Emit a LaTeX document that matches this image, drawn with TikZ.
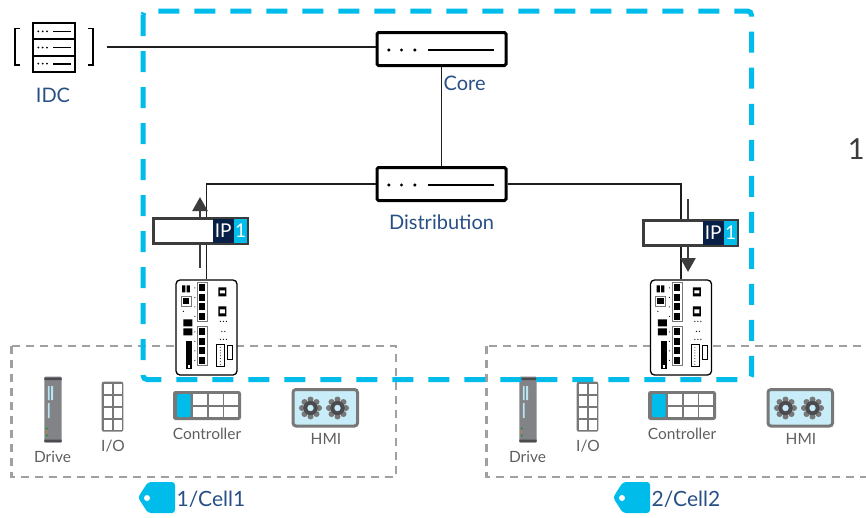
\documentclass[tikz,border=0pt]{standalone}
\usepackage{fontspec}
\setmainfont{Lato}
\usetikzlibrary{arrows.meta,calc}

\definecolor{zoneblue}{RGB}{0,188,235}
\definecolor{labelblue}{RGB}{40,80,135}
\definecolor{labelgrey}{RGB}{95,95,95}
\definecolor{cellgrey}{RGB}{160,160,160}
\definecolor{iconpanel}{RGB}{130,131,135}
\definecolor{icondark}{RGB}{75,75,80}
\definecolor{slotblue}{RGB}{185,228,242}
\definecolor{hmifill}{RGB}{200,236,248}
\definecolor{ipnavy}{RGB}{8,32,70}
\definecolor{linkgrey}{RGB}{30,30,30}
\definecolor{flowgrey}{RGB}{60,60,60}
\definecolor{devgrey}{RGB}{120,120,120}

\tikzset{
  link/.style={draw=linkgrey, line width=1.5pt},
  netswitch/.style={draw=black, line width=3pt, fill=white, rounded corners=1.5pt,
    minimum width=129pt, minimum height=33pt, inner sep=0pt},
  zonebox/.style={draw=zoneblue, line width=5pt, dash pattern=on 21pt off 15pt, rounded corners=4pt},
  cellbox/.style={draw=cellgrey, line width=2.5pt, dash pattern=on 8pt off 6pt},
  bluelbl/.style={text=labelblue, inner sep=0pt, font=\fontsize{20}{24}\selectfont},
  greylbl/.style={text=labelgrey, inner sep=0pt, font=\fontsize{15.5}{18}\selectfont},
  ipframe/.style={draw=flowgrey, line width=2.5pt, fill=white, minimum width=94pt,
    minimum height=25pt, inner sep=0pt},
  ipflow/.style={draw=flowgrey, line width=2.5pt, -{Triangle[length=14pt,width=15pt]}},
  iedev/.style={draw=black, line width=1.3pt, fill=white, rounded corners=4pt,
    minimum width=61pt, minimum height=95pt, inner sep=0pt},
  thinpart/.style={line width=0.6pt},
}

% dots and bar of a switch glyph
\newcommand\switchglyph[1]{%
  \foreach \dx in {13.4,26,39.4}{\fill ([xshift=\dx pt, yshift=-1pt]#1.west) circle (1.7);}
  \draw[line width=2.6pt] ([xshift=52pt, yshift=-1pt]#1.west) -- ([xshift=-13.4pt, yshift=-1pt]#1.east);}

% IP label box with the two coloured fields
\newcommand\ipbox[3]{%
  \node[ipframe] (#1) at (#2,#3) {};
  \fill[ipnavy] ([xshift=-36pt, yshift=-1.3pt]#1.north east) rectangle ([xshift=-15pt, yshift=1.3pt]#1.south east);
  \fill[zoneblue] ([xshift=-15pt, yshift=-1.3pt]#1.north east) rectangle ([xshift=-1.3pt, yshift=1.3pt]#1.south east);
  \node[text=white, inner sep=0pt, font=\fontsize{19}{22}\selectfont] at ([xshift=-25.5pt]#1.east) {IP};
  \node[text=white, inner sep=0pt, font=\fontsize{19}{22}\selectfont] at ([xshift=-8.2pt]#1.east) {1};}

% industrial ethernet switch front panel
\newcommand\iedevice[3]{%
  \node[iedev] (#1) at (#2,#3) {};
  \begin{scope}[shift={(#1.north west)}]
    \fill (6.7,6) rectangle (9.9,13) (11.3,6) rectangle (14.5,13);
    \draw[devgrey, thinpart] (5.7,16.7) rectangle (15.7,26.7);
    \fill (7.5,18.5) rectangle (13.9,25);
    \fill (8,32) circle (0.7);
    \fill (8,40) rectangle (17,47) (8,49) rectangle (17,56);
    \fill (11,62) rectangle (17,90);
    \fill[white] (13,86) rectangle (15,89);
    \draw[devgrey, thinpart] (22,3) rectangle (32,42) (22,47) rectangle (32,86);
    \foreach \k in {0,1,2,3}{
      \fill (24,{5+9.5*\k}) rectangle (30,{12+9.5*\k});
      \fill (24,{49+9.5*\k}) rectangle (30,{56+9.5*\k});
      \fill (19.5,{8.5+9.5*\k}) circle (0.6);
      \fill (19.5,{52.5+9.5*\k}) circle (0.6);}
    \fill (43,8) rectangle (51,17) (43,27) rectangle (51,37);
    \fill[white] (44.5,11) rectangle (49.5,14) (44.5,30) rectangle (49.5,34);
    \foreach \dx in {45,48,51}{\fill (\dx,42) circle (0.7); \fill (\dx,60) circle (0.7);}
    \foreach \dx in {46.5,49.5}{\fill (\dx,52) circle (0.7);}
    \draw[thinpart] (41,65) rectangle (49,87);
    \foreach \k in {0,...,6}{\fill (45,{68+2.8*\k}) circle (0.5);}
    \draw[thinpart] (52,66) rectangle (57,80);
  \end{scope}}

% one gear of the HMI icon
\newcommand\gear[2]{%
  \foreach \a in {0,45,...,315}{\fill[devgrey] ($(#1,#2)+(\a:8.5)$) circle (3);}
  \fill[icondark] (#1,#2) circle (7.2);
  \fill[hmifill] (#1,#2) circle (3.2);}

% field devices of one cell
\newcommand\cellicons[1]{%
  % drive
  \fill[iconpanel, rounded corners=1pt] (44.3,376.7) rectangle (61.7,442.7);
  \fill[icondark] (44.3,377.5) rectangle (61.7,380) (44.3,439.5) rectangle (61.7,442);
  \fill[slotblue] (47.8,386) rectangle (49.6,400) (51.2,386) rectangle (53,400) (47.8,403) rectangle (49.6,418);
  \fill[green!60!black] (46.7,428.5) circle (0.9) (46.7,435.5) circle (0.9);
  \fill[orange] (46.7,432) circle (0.9);
  \node[greylbl] (#1drive) at (52.5,457) {Drive};
  % I/O block
  \fill[devgrey, rounded corners=2pt] (101.7,381.7) rectangle (123.3,431.7);
  \foreach \c in {0,1}{\foreach \r in {0,...,3}{
    \fill[white] ({103.7+10*\c},{383.7+12*\r}) rectangle ({111.5+10*\c},{393.7+12*\r});}}
  \node[greylbl] (#1io) at (113,446) {I/O};
  % controller
  \fill[devgrey, rounded corners=2.5pt] (173,391) rectangle (241,420);
  \fill[zoneblue, rounded corners=1pt] (177,394) rectangle (190.5,417);
  \foreach \c in {0,1,2}{
    \fill[white] ({192.7+15.8*\c},394) rectangle ({206.7+15.8*\c},404.7);
    \fill[white] ({192.7+15.8*\c},406.7) rectangle ({206.7+15.8*\c},417);}
  \node[greylbl] (#1ctrl) at (207,434) {Controller};
  % HMI
  \draw[devgrey, line width=3pt, fill=hmifill, rounded corners=3pt] (293,389.5) rectangle (357.5,426);
  \gear{310.5}{408}\gear{337.5}{408}
  \node[greylbl] (#1hmi) at (326,438.5) {HMI};}

% cell tag
\newcommand\celltag[3]{%
  \fill[zoneblue, rounded corners=3pt] (175,482) -- (148,482) -- (138,497.5) -- (148,513) -- (175,513) -- cycle;
  \fill[white] (147,498) circle (3);
  \node[bluelbl, anchor=west, font=\fontsize{21}{24}\selectfont] (#1) at (176.5,499.5) {#2/Cell#3};}

\begin{document}
\begin{tikzpicture}[x=1pt, y=-1pt]
  \clip (0,0) rectangle (866,517);

  % cells
  \draw[cellbox] (11.7,346) rectangle (396,477);
  \draw[cellbox] (486.7,346) rectangle (900,477);
  \cellicons{a}
  \celltag{tagA}{1}{1}
  \begin{scope}[xshift=475pt]
    \cellicons{b}
    \celltag{tagB}{2}{2}
  \end{scope}

  % plant zone
  \draw[zonebox] (143,11) rectangle (751.5,379.5);

  % IDC
  \node[inner sep=0pt, minimum width=80pt, minimum height=48pt, outer xsep=12.5pt] (idc) at (54.5,47) {};
  \draw[line width=1.5pt] (20,28.3) -- (15,28.3) -- (15,65) -- (20,65);
  \draw[line width=1.5pt] (88,28.3) -- (93,28.3) -- (93,65) -- (88,65);
  \foreach \r in {0,1,2}{
    \draw[line width=2pt, fill=white] (33.3,{23.3+16.1*\r}) rectangle (75,{39.4+16.1*\r});
    \foreach \dx in {38.3,42.7,47}{\fill (\dx,{31.4+16.1*\r}) circle (1);}
    \draw[line width=1.8pt] (53.3,{31.4+16.1*\r}) -- (70.7,{31.4+16.1*\r});}
  \node[bluelbl] (idclbl) at (53,95) {IDC};

  % core and distribution
  \node[netswitch] (core) at (441.5,49) {};
  \node[netswitch] (dist) at (441.5,184) {};
  \draw[link] (idc.east) -- (idc.east -| core.west);
  \draw[link] (core.south) -- (dist.north);
  \switchglyph{core}
  \switchglyph{dist}
  \node[bluelbl, anchor=west] (corelbl) at (443.5,83) {Core};
  \node[bluelbl] (distlbl) at (441.5,222) {Distribution};

  % access switches
  \iedevice{swA}{206.5}{327.5}
  \iedevice{swB}{681}{327.5}
  \draw[link] (dist.west) -| (swA.north);
  \draw[link] (dist.east) -| (swB.north);

  % IP traffic direction
  \coordinate (upA) at (200,268);
  \coordinate (upB) at (200,197);
  \coordinate (dnA) at (688,199);
  \coordinate (dnB) at (688,272);
  \draw[ipflow] (upA) -- (upB);
  \draw[ipflow] (dnA) -- (dnB);
  \ipbox{ipA}{200.5}{231}
  \ipbox{ipB}{690.5}{233}

  \node[anchor=east, inner sep=0pt, text=flowgrey, font=\fontsize{29}{34}\selectfont] (edgeone) at (865,149) {1};
\end{tikzpicture}
\end{document}
